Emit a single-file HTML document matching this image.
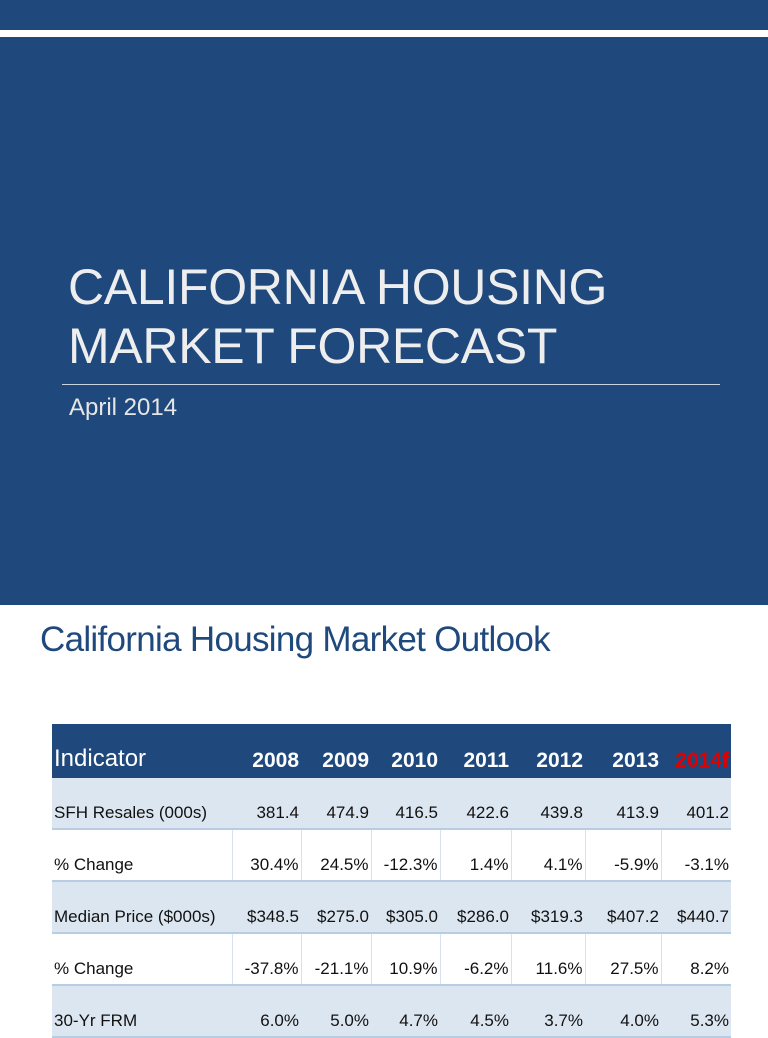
<!DOCTYPE html>
<html><head><style>
body{margin:0;width:768px;height:1024px;overflow:hidden;background:#fff;font-family:"Liberation Sans",sans-serif;position:relative}
.top{position:absolute;left:0;top:0;width:768px;height:605px;background:#1f497d}
.stripe{position:absolute;left:0;top:30px;width:768px;height:7px;background:#fff}
.t1{position:absolute;left:68px;top:258px;color:#eeeeee;font-size:50px;line-height:59px;letter-spacing:-0.3px}
.rule{position:absolute;left:62px;top:384px;width:658px;height:1px;background:#c9d3df}
.sub{position:absolute;left:69px;top:394px;color:#e6e6e6;font-size:24px}
.h2{position:absolute;left:40px;top:620px;color:#1f497d;font-size:35px;letter-spacing:-0.7px}
table{position:absolute;left:52px;top:724px;border-collapse:collapse;width:679px;table-layout:fixed}
td{padding:0 2px 5px 2px;text-align:right;vertical-align:bottom;font-size:17px;color:#111;height:45px}
td:first-child{text-align:left}
tr.h td{background:#1f497d;color:#fff;font-weight:bold;font-size:21px;height:49px;vertical-align:bottom;padding-bottom:5px}
tr.h td:first-child{font-size:24px;font-weight:normal}
tr.a td{background:#dce6f1;border-bottom:2px solid #b8cce4}
tr.b td{background:#fff;border-left:1px solid #d8e2ee;border-bottom:2px solid #b8cce4}
tr.b td:first-child{border-left:none}
</style></head><body>
<div class="top"></div><div class="stripe"></div>
<div class="t1">CALIFORNIA HOUSING<br>MARKET FORECAST</div>
<div class="rule"></div>
<div class="sub">April 2014</div>
<div class="h2">California Housing Market Outlook</div>
<table>
<colgroup><col style="width:180px"><col style="width:69px"><col style="width:70px"><col style="width:69px"><col style="width:71px"><col style="width:74px"><col style="width:76px"><col style="width:70px"></colgroup>
<tr class="h"><td>Indicator</td><td>2008</td><td>2009</td><td>2010</td><td>2011</td><td>2012</td><td>2013</td><td style="color:#e00000">2014f</td></tr>
<tr class="a"><td>SFH Resales (000s)</td><td>381.4</td><td>474.9</td><td>416.5</td><td>422.6</td><td>439.8</td><td>413.9</td><td>401.2</td></tr>
<tr class="b"><td>% Change</td><td>30.4%</td><td>24.5%</td><td>-12.3%</td><td>1.4%</td><td>4.1%</td><td>-5.9%</td><td>-3.1%</td></tr>
<tr class="a"><td>Median Price ($000s)</td><td>$348.5</td><td>$275.0</td><td>$305.0</td><td>$286.0</td><td>$319.3</td><td>$407.2</td><td>$440.7</td></tr>
<tr class="b"><td>% Change</td><td>-37.8%</td><td>-21.1%</td><td>10.9%</td><td>-6.2%</td><td>11.6%</td><td>27.5%</td><td>8.2%</td></tr>
<tr class="a"><td>30-Yr FRM</td><td>6.0%</td><td>5.0%</td><td>4.7%</td><td>4.5%</td><td>3.7%</td><td>4.0%</td><td>5.3%</td></tr>
</table>
</body></html>
